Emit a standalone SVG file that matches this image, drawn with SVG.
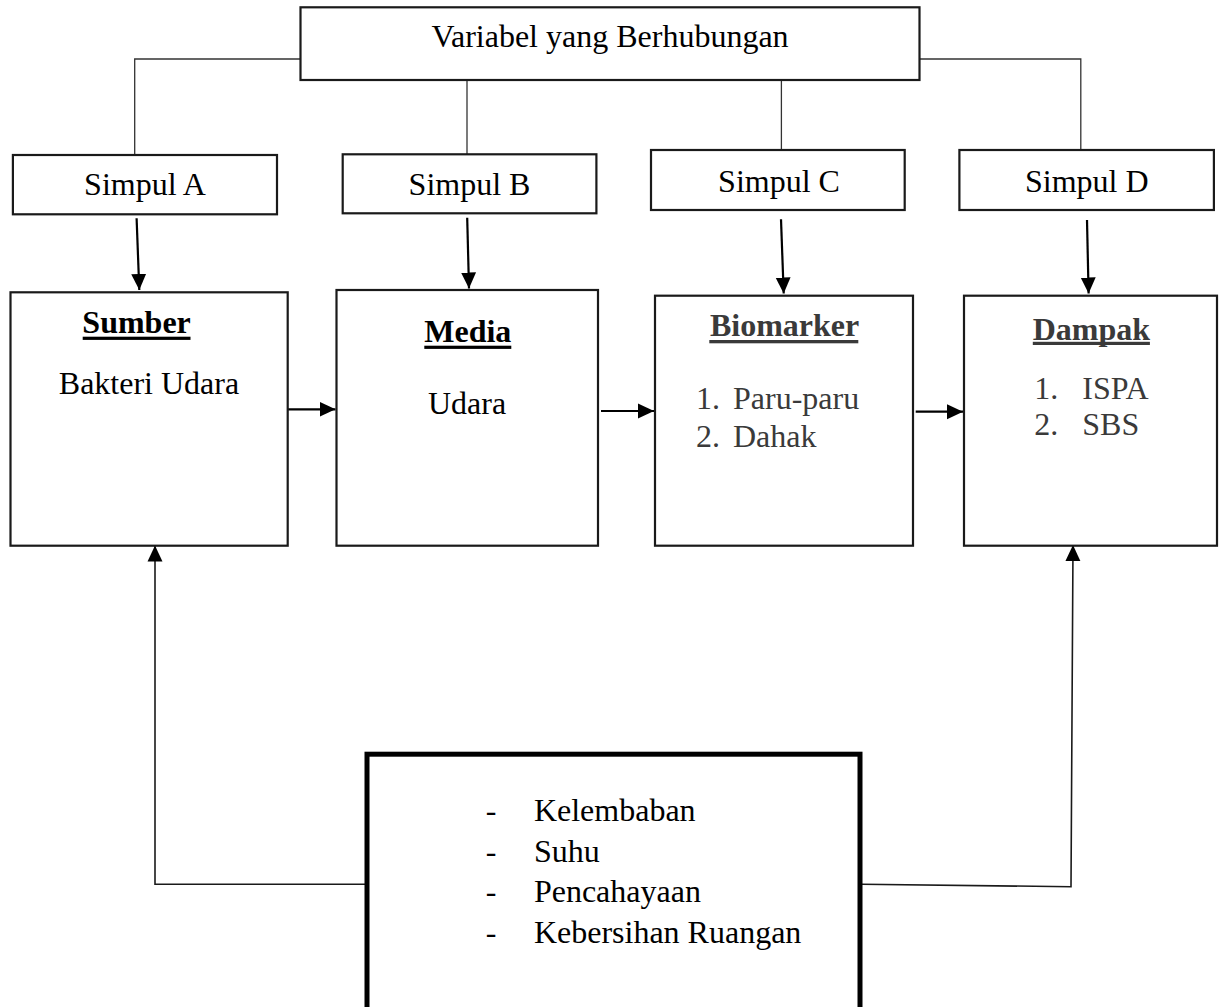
<svg xmlns="http://www.w3.org/2000/svg" width="1224" height="1007" viewBox="0 0 1224 1007">
<style>
  .box { fill: #ffffff; stroke: #1a1a1a; stroke-width: 2.2; }
  .thick { fill: #ffffff; stroke: #000000; stroke-width: 5; }
  .t { font-family: "Liberation Serif", "Times New Roman", serif; font-size: 32px; fill: #000000; }
  .c { text-anchor: middle; }
  .h { font-weight: bold; }
  .g { fill: #3a3a3a; }
  .ul { fill: #000000; }
  .ulg { fill: #3a3a3a; }
  .thin { fill: none; stroke: #333333; stroke-width: 1.3; }
  .arr { fill: none; stroke: #000000; stroke-width: 2.2; marker-end: url(#ah); }
  .arr2 { fill: none; stroke: #1a1a1a; stroke-width: 1.6; marker-end: url(#ah); }
</style>
<defs>
  <marker id="ah" markerUnits="userSpaceOnUse" markerWidth="16" markerHeight="16" viewBox="0 0 15 14" refX="15" refY="7" orient="auto">
    <path d="M0,0 L15,7 L0,14 z" fill="#000000"/>
  </marker>
</defs>
<rect width="1224" height="1007" fill="#ffffff"/>

<g id="connectors">
  <polyline class="thin" points="300.5,59 134.7,59 134.7,155"/>
  <line class="thin" x1="467" y1="80" x2="467" y2="154.3"/>
  <line class="thin" x1="781.4" y1="80" x2="781.4" y2="151"/>
  <polyline class="thin" points="919.6,59 1080.8,59 1080.8,150"/>
  <line class="arr" x1="136.6" y1="218.3" x2="139.3" y2="290"/>
  <line class="arr" x1="467.2" y1="217.7" x2="469" y2="288.5"/>
  <line class="arr" x1="781" y1="219.3" x2="783.7" y2="293.5"/>
  <line class="arr" x1="1087" y1="220" x2="1088.6" y2="293.5"/>
  <line class="arr" x1="287.7" y1="409.3" x2="335.5" y2="409.3"/>
  <line class="arr" x1="601" y1="411" x2="654" y2="411"/>
  <line class="arr" x1="915.7" y1="411.7" x2="963" y2="411.7"/>
  <polyline class="arr2" points="366,884.3 155,884.3 155,545.5"/>
  <polyline class="arr2" points="862,884.3 1071,886.7 1073,545"/>
</g>

<g id="node-variabel">
  <rect class="box" x="300.5" y="7.3" width="619" height="72.7"/>
  <text class="t c" x="610" y="46.7">Variabel yang Berhubungan</text>
</g>
<g id="node-simpul-a">
  <rect class="box" x="12.9" y="155" width="264.1" height="59.3"/>
  <text class="t c" x="145" y="195">Simpul A</text>
</g>
<g id="node-simpul-b">
  <rect class="box" x="342.7" y="154.3" width="253.7" height="59"/>
  <text class="t c" x="469.5" y="195">Simpul B</text>
</g>
<g id="node-simpul-c">
  <rect class="box" x="651" y="150" width="253.7" height="60"/>
  <text class="t c" x="779" y="191.7">Simpul C</text>
</g>
<g id="node-simpul-d">
  <rect class="box" x="959.4" y="150" width="254.5" height="60"/>
  <text class="t c" x="1086.8" y="191.7">Simpul D</text>
</g>
<g id="node-sumber">
  <rect class="box" x="10.5" y="292.3" width="277.2" height="253.4"/>
  <text class="t c h" x="136.6" y="333.3">Sumber</text>
  <rect class="ul" x="82.7" y="336.7" width="107.8" height="3.2"/>
  <text class="t c" x="149" y="394.3">Bakteri Udara</text>
</g>
<g id="node-media">
  <rect class="box" x="336.5" y="290" width="261.5" height="255.7"/>
  <text class="t c h" x="467.8" y="341.7">Media</text>
  <rect class="ul" x="424.3" y="345.7" width="87" height="3.2"/>
  <text class="t c" x="467" y="414.3">Udara</text>
</g>
<g id="node-biomarker">
  <rect class="box" x="655" y="295.7" width="258" height="250"/>
  <text class="t c h g" x="784.6" y="336">Biomarker</text>
  <rect class="ulg" x="709.3" y="340" width="149" height="3.3"/>
  <text class="t g" x="695.9" y="409.3">1.</text>
  <text class="t g" x="733" y="409.3">Paru-paru</text>
  <text class="t g" x="695.9" y="446.7">2.</text>
  <text class="t g" x="733" y="446.7">Dahak</text>
</g>
<g id="node-dampak">
  <rect class="box" x="964" y="295.7" width="253" height="250"/>
  <text class="t c h g" x="1091.4" y="340">Dampak</text>
  <rect class="ulg" x="1032.8" y="341.8" width="117.1" height="3.2"/>
  <text class="t g" x="1034.3" y="399.3">1.</text>
  <text class="t g" x="1082.3" y="399.3">ISPA</text>
  <text class="t g" x="1034.3" y="435">2.</text>
  <text class="t g" x="1082.3" y="435">SBS</text>
</g>
<g id="node-faktor">
  <rect class="thick" x="367" y="754.2" width="493" height="270"/>
  <text class="t" x="485.8" y="821">-</text>
  <text class="t" x="533.9" y="821">Kelembaban</text>
  <text class="t" x="485.8" y="861.7">-</text>
  <text class="t" x="533.9" y="861.7">Suhu</text>
  <text class="t" x="485.8" y="901.7">-</text>
  <text class="t" x="533.9" y="901.7">Pencahayaan</text>
  <text class="t" x="485.8" y="943.3">-</text>
  <text class="t" x="533.9" y="943.3">Kebersihan Ruangan</text>
</g>
</svg>
